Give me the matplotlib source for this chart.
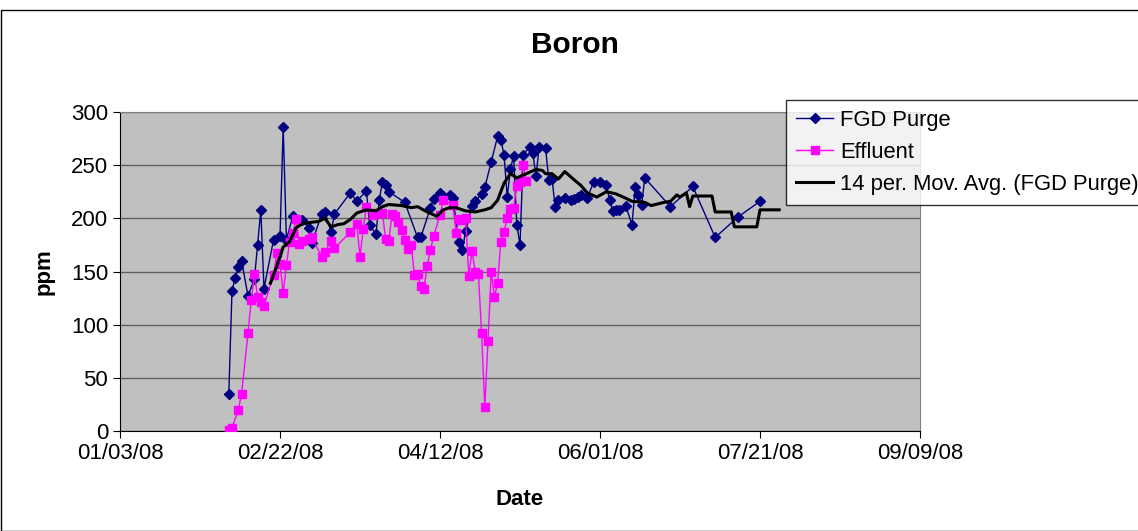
import matplotlib
matplotlib.use('Agg')
import matplotlib.pyplot as plt
import matplotlib.dates as mdates
import pandas as pd
from matplotlib.patches import Rectangle

plt.rcParams['font.family'] = ['Liberation Sans', 'DejaVu Sans']

# FGD Purge samples
purge_dates = ['02/06/08', '02/07/08', '02/08/08', '02/09/08', '02/10/08', '02/12/08', '02/14/08',
               '02/15/08', '02/16/08', '02/17/08', '02/20/08', '02/22/08', '02/23/08', '02/24/08',
               '02/26/08', '02/29/08', '03/02/08', '03/03/08', '03/06/08', '03/07/08', '03/09/08',
               '03/10/08', '03/15/08', '03/17/08', '03/20/08', '03/21/08', '03/23/08', '03/24/08',
               '03/25/08', '03/26/08', '03/27/08', '04/01/08', '04/05/08', '04/06/08', '04/09/08',
               '04/10/08', '04/12/08', '04/13/08', '04/15/08', '04/16/08', '04/18/08', '04/19/08',
               '04/20/08', '04/22/08', '04/23/08', '04/25/08', '04/26/08', '04/28/08', '04/30/08',
               '05/01/08', '05/02/08', '05/03/08', '05/04/08', '05/05/08', '05/06/08', '05/07/08',
               '05/08/08', '05/10/08', '05/11/08', '05/12/08', '05/13/08', '05/15/08', '05/16/08',
               '05/17/08', '05/18/08', '05/19/08', '05/21/08', '05/23/08', '05/24/08', '05/25/08',
               '05/26/08', '05/28/08', '05/30/08', '06/01/08', '06/03/08', '06/04/08', '06/05/08',
               '06/06/08', '06/07/08', '06/09/08', '06/11/08', '06/12/08', '06/13/08', '06/14/08',
               '06/15/08', '06/23/08', '06/30/08', '07/07/08', '07/14/08', '07/21/08']
purge_ppm = [35, 132, 144, 154, 160, 127, 143,
             175, 208, 134, 180, 183, 286, 180,
             202, 198, 191, 177, 204, 206, 187,
             204, 224, 216, 226, 194, 185, 217,
             234, 231, 225, 215, 182, 182, 210,
             218, 224, 221, 222, 219, 178, 170,
             188, 212, 216, 223, 229, 253, 277,
             274, 260, 220, 246, 259, 194, 175,
             260, 267, 261, 240, 267, 266, 236,
             237, 211, 217, 219, 217, 218, 220,
             222, 219, 234, 234, 231, 217, 207,
             208, 208, 212, 194, 229, 222, 213,
             238, 211, 230, 182, 201, 216]

# Effluent samples
effluent_dates = ['02/06/08', '02/07/08', '02/09/08', '02/10/08', '02/12/08', '02/13/08', '02/14/08',
                  '02/15/08', '02/16/08', '02/17/08', '02/20/08', '02/21/08', '02/22/08', '02/23/08',
                  '02/24/08', '02/25/08', '02/26/08', '02/27/08', '02/28/08', '02/29/08', '03/02/08',
                  '03/03/08', '03/06/08', '03/07/08', '03/09/08', '03/10/08', '03/15/08', '03/17/08',
                  '03/18/08', '03/19/08', '03/20/08', '03/22/08', '03/23/08', '03/25/08', '03/26/08',
                  '03/27/08', '03/28/08', '03/29/08', '03/30/08', '03/31/08', '04/01/08', '04/02/08',
                  '04/03/08', '04/04/08', '04/05/08', '04/06/08', '04/07/08', '04/08/08', '04/09/08',
                  '04/10/08', '04/12/08', '04/13/08', '04/16/08', '04/17/08', '04/18/08', '04/19/08',
                  '04/20/08', '04/21/08', '04/22/08', '04/23/08', '04/24/08', '04/25/08', '04/26/08',
                  '04/27/08', '04/28/08', '04/29/08', '04/30/08', '05/01/08', '05/02/08', '05/03/08',
                  '05/04/08', '05/05/08', '05/06/08', '05/07/08', '05/08/08', '05/09/08']
effluent_ppm = [1, 3, 20, 35, 92, 123, 148,
                126, 121, 118, 147, 167, 157, 130,
                156, 178, 186, 199, 176, 179, 181,
                182, 164, 168, 179, 172, 187, 195,
                164, 190, 211, 203, 205, 205, 181,
                179, 204, 202, 197, 189, 180, 171,
                175, 147, 148, 136, 134, 155, 170,
                183, 203, 217, 213, 186, 199, 198,
                200, 146, 169, 150, 148, 92, 23,
                85, 150, 126, 139, 178, 187, 200,
                209, 210, 230, 234, 250, 235]

# 14 period moving average of FGD Purge (trendline as drawn)
ma_dates = ['02/19/08', '02/21/08', '02/23/08', '02/25/08', '02/27/08', '02/29/08', '03/02/08',
            '03/05/08', '03/07/08', '03/09/08', '03/11/08', '03/13/08', '03/15/08', '03/17/08',
            '03/20/08', '03/23/08', '03/25/08', '03/27/08', '03/31/08', '04/03/08', '04/05/08',
            '04/08/08', '04/11/08', '04/13/08', '04/15/08', '04/17/08', '04/20/08', '04/23/08',
            '04/26/08', '04/28/08', '04/30/08', '05/02/08', '05/04/08', '05/06/08', '05/09/08',
            '05/12/08', '05/14/08', '05/15/08', '05/17/08', '05/19/08', '05/21/08', '05/24/08',
            '05/26/08', '05/28/08', '05/31/08', '06/03/08', '06/06/08', '06/09/08', '06/11/08',
            '06/15/08', '06/17/08', '06/21/08', '06/23/08', '06/25/08', '06/26/08', '06/28/08',
            '06/29/08', '06/30/08', '07/06/08', '07/07/08', '07/12/08', '07/13/08', '07/20/08',
            '07/21/08', '07/27/08']
ma_ppm = [139, 155, 173, 178, 191, 195, 196,
          197, 200, 192, 194, 195, 199, 205,
          208, 207, 211, 213, 212, 210, 211,
          206, 202, 208, 210, 210, 207, 206,
          208, 210, 217, 233, 242, 238, 242,
          246, 245, 242, 242, 237, 244, 236,
          231, 224, 220, 225, 223, 219, 216,
          215, 212, 215, 216, 222, 220, 224,
          211, 221, 221, 206, 206, 192, 192,
          208, 208]

purge_x = pd.to_datetime(purge_dates, format='%m/%d/%y')
effluent_x = pd.to_datetime(effluent_dates, format='%m/%d/%y')
ma_x = pd.to_datetime(ma_dates, format='%m/%d/%y')

fig = plt.figure(figsize=(11.38, 5.31), dpi=100)
ax = fig.add_axes([120 / 1138, 1 - 431 / 531, 800 / 1138, 319 / 531])
ax.set_facecolor('#C0C0C0')

ax.plot(purge_x, purge_ppm, color='#000080', linewidth=1, marker='D',
        markersize=5.5, label='FGD Purge', zorder=3)
ax.plot(effluent_x, effluent_ppm, color='#FF00FF', linewidth=1, marker='s',
        markersize=5.5, label='Effluent', zorder=4)
ax.plot(ma_x, ma_ppm, color='black', linewidth=2.2,
        label='14 per. Mov. Avg. (FGD Purge)', zorder=5)

start = pd.Timestamp('2008-01-03')
ticks = [start + pd.Timedelta(days=50 * i) for i in range(6)]
ax.set_xlim(ticks[0], ticks[-1])
ax.set_xticks(ticks)
ax.xaxis.set_major_formatter(mdates.DateFormatter('%m/%d/%y'))
ax.set_ylim(0, 300)
ax.set_yticks(range(0, 301, 50))

ax.yaxis.grid(True, color='#606060', linewidth=1)
ax.set_axisbelow(True)
for side in ['top', 'right']:
    ax.spines[side].set_color('#808080')
for side in ['left', 'bottom']:
    ax.spines[side].set_color('black')
ax.tick_params(axis='both', direction='out', length=5, labelsize=16, colors='black')

# title is centred on the whole chart area, not the plot area
fig.text(575 / 1138, 1 - 45 / 531, 'Boron', fontsize=21.5, fontweight='bold',
         ha='center', va='center')
ax.set_xlabel('Date', fontsize=16, fontweight='bold', labelpad=18)
ax.set_ylabel('ppm', fontsize=16, fontweight='bold', labelpad=12)

leg = fig.legend(loc='upper left', bbox_to_anchor=(786 / 1138, 1 - 100 / 531),
                 fontsize=15.8, frameon=True, fancybox=False, borderpad=0.45,
                 borderaxespad=0, handlelength=1.7, handletextpad=0.3,
                 labelspacing=0.5)
leg.get_frame().set_edgecolor('black')
leg.get_frame().set_linewidth(1)

# chart area border
fig.patches.append(Rectangle((0.5 / 1138, 0), 1.5, 1 - 10 / 531, transform=fig.transFigure,
                             fill=False, edgecolor='black', linewidth=1))

fig.savefig('out.png', dpi=100)
